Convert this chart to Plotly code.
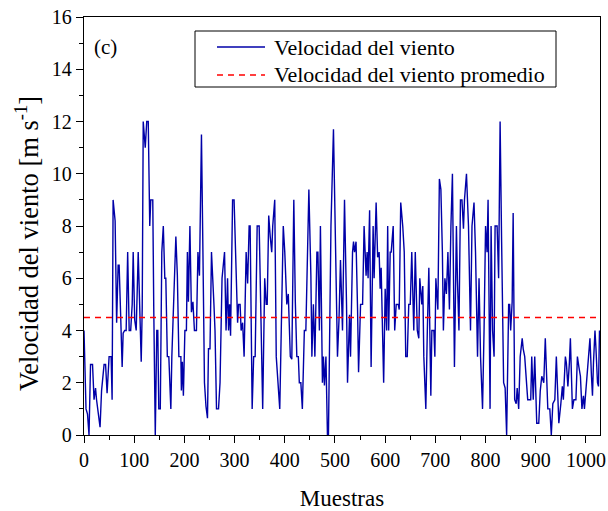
import plotly.graph_objects as go

# Sample index and wind speed (m/s)
muestras = [0,4,7,10,13,17,20,23,25,29,32,35,40,43,46,50,54,56,58,62,65,68,70,73,76,78,81,84,87,90,93,96,98,101,104,108,110,114,116,118,122,125,128,
            131,133,137,139,142,145,147,149,152,155,158,161,163,166,169,173,175,179,183,186,189,193,194,196,198,201,204,206,208,211,212,214,217,220,224,227,230,234,237,240,243,246,248,251,254,256,259,261,264,
            268,271,275,280,283,286,288,290,292,296,299,303,306,308,311,313,316,319,323,326,329,331,335,338,341,345,349,353,356,360,363,365,368,371,374,376,380,383,386,390,393,397,400,
            402,404,407,409,411,414,418,421,424,427,429,432,435,439,442,448,452,454,457,460,464,466,469,471,475,477,479,482,485,487,492,497,501,505,508,511,515,519,523,525,529,531,535,
            537,539,542,545,547,551,555,558,562,564,566,569,572,576,578,582,585,588,590,592,597,600,603,605,607,610,612,616,619,622,626,628,631,635,638,641,644,647,650,653,657,660,664,667,669,
            673,675,677,681,684,687,691,693,697,699,701,705,708,711,714,716,719,722,725,728,731,734,738,742,744,747,750,753,756,758,762,766,770,773,777,780,784,787,790,794,797,800,803,805,
            809,811,814,817,819,823,826,829,832,836,839,842,846,848,850,853,855,858,861,863,866,869,873,875,878,881,884,890,892,895,898,900,902,906,909,912,916,919,922,924,928,931,934,938,941,
            944,946,950,953,955,959,961,964,967,969,973,976,980,983,986,989,992,995,997,1001,1005,1008,1011,1013,1015,1018,1020,1023,1025,1027]
velocidad = [4.0,1.0,0.8,0.0,2.7,2.7,1.35,1.8,1.35,0.7,0.3,1.7,2.7,2.7,1.6,3.0,3.0,1.35,9.0,8.2,4.3,6.5,6.5,4.6,2.6,3.9,4.0,4.0,7.0,4.0,4.0,5.0,7.0,4.4,4.0,7.0,5.3,2.8,4.9,12.0,11.0,12.0,12.0,
             8.0,9.0,9.0,4.8,0.0,4.0,4.0,1.0,1.0,7.0,8.0,6.0,6.0,3.0,3.0,1.0,3.0,5.3,7.6,6.1,3.0,3.0,1.7,2.8,1.5,4.0,4.0,7.0,5.1,8.0,6.0,4.7,5.1,4.0,4.0,7.0,6.1,11.5,6.9,2.0,1.1,0.64,3.3,3.3,7.0,5.85,4.95,4.0,1.0,
             1.0,2.0,6.0,7.0,4.0,6.0,4.0,5.0,3.8,9.0,9.0,6.0,4.3,5.0,5.0,4.0,4.3,3.0,7.0,5.8,8.0,8.0,1.0,3.0,3.0,8.0,8.0,4.0,1.0,6.0,5.0,5.0,8.4,7.6,7.0,8.0,9.0,3.0,2.0,1.0,4.0,8.0,7.0,
             6.0,5.0,5.4,4.2,3.0,2.9,9.0,5.1,3.0,3.0,2.0,2.0,1.0,4.0,4.0,9.4,6.1,3.0,5.0,3.0,7.0,7.0,4.0,8.0,2.0,3.0,1.9,3.0,0.0,0.0,8.0,11.7,7.0,3.0,4.4,6.7,4.0,9.0,5.0,2.0,4.6,3.0,7.0,
             7.4,7.0,7.4,4.8,2.4,5.0,5.0,8.0,6.1,7.0,6.0,8.6,2.6,8.0,6.0,8.9,6.8,7.0,5.6,6.4,2.0,5.6,4.0,8.0,4.0,7.0,7.0,8.0,4.0,5.0,5.0,4.8,8.9,8.0,7.0,3.0,3.0,5.0,5.0,7.0,4.0,7.0,4.0,3.7,6.0,
             5.0,5.7,3.0,1.0,4.0,6.4,1.5,4.0,4.0,3.0,6.0,4.8,9.8,9.4,7.0,4.0,6.0,5.4,7.0,4.8,8.0,10.0,2.6,8.0,5.9,4.0,9.0,9.0,7.9,9.0,10.0,8.0,4.0,8.0,8.9,7.0,3.0,6.0,3.0,1.0,4.0,8.0,7.0,9.0,
             1.0,8.0,4.0,3.0,8.0,8.0,6.0,12.0,7.4,2.0,1.8,0.0,5.0,5.0,4.0,5.1,8.5,1.35,1.2,1.8,1.0,3.0,3.7,3.3,3.0,2.0,1.35,1.35,3.0,1.35,3.0,1.7,0.45,0.45,1.7,2.25,2.0,3.7,2.0,1.0,1.0,0.0,1.2,1.35,3.0,
             1.0,0.45,1.2,1.86,1.35,3.0,2.76,1.86,2.76,3.7,1.0,1.35,1.35,3.0,2.6,2.25,1.0,1.5,1.0,2.0,3.0,3.7,2.25,1.5,2.76,4.0,3.3,2.0,1.86,4.0]
promedio = 4.5
x_rango = [0, 1028]
y_rango = [0, 16]
serie_nombres = ["Velocidad del viento", "Velocidad del viento promedio"]

FONT = "Liberation Serif"
AZUL = "#0000A8"
ROJO = "#FF0000"
DASH = "6px,5px"

# plot-area geometry (pixels) used to place the overlay legend
L, R, T, B = 84, 8, 17, 76
W, H = 608 - L - R, 511 - T - B
def px(p):
    return (p - L) / W
def py(p):
    return (511 - B - p) / H

fig = go.Figure()
fig.add_trace(go.Scatter(x=muestras, y=velocidad, mode="lines",
                         line=dict(color=AZUL, width=1.4),
                         name=serie_nombres[0], showlegend=False))
fig.add_trace(go.Scatter(x=x_rango, y=[promedio, promedio], mode="lines",
                         line=dict(color=ROJO, width=1.4, dash=DASH),
                         name=serie_nombres[1], showlegend=False))

axis_common = dict(showline=True, linecolor="black", linewidth=1.4, mirror=True,
                   ticks="outside", tickcolor="black", tickwidth=1.4, ticklen=7,
                   showgrid=False, zeroline=False,
                   tickfont=dict(family=FONT, size=20, color="black"))

fig.update_xaxes(range=x_rango, dtick=100, tick0=0,
                 minor=dict(dtick=50, ticks="outside", ticklen=4, tickcolor="black", tickwidth=1.4),
                 title=dict(text="Muestras", font=dict(family=FONT, size=23, color="black"), standoff=20),
                 **axis_common)
fig.update_yaxes(range=y_rango, dtick=2, tick0=0,
                 minor=dict(dtick=1, ticks="outside", ticklen=4, tickcolor="black", tickwidth=1.4),
                 **axis_common)

# y-axis title
fig.add_annotation(text="Velocidad del viento [m s<sup>-1</sup>]", xref="paper", yref="paper",
                   x=px(27), y=py(244), xanchor="center", yanchor="middle", textangle=-90,
                   showarrow=False, font=dict(family=FONT, size=26.5, color="black"))

# panel label
fig.add_annotation(text="(c)", xref="paper", yref="paper", x=px(92), y=py(47),
                   xanchor="left", yanchor="middle", showarrow=False,
                   font=dict(family=FONT, size=21, color="black"))

# legend box
fig.add_shape(type="rect", xref="paper", yref="paper",
              x0=px(195), x1=px(556), y0=py(87), y1=py(31),
              line=dict(color="black", width=1), fillcolor="white", layer="above")
fig.add_shape(type="line", xref="paper", yref="paper",
              x0=px(217), x1=px(265), y0=py(47), y1=py(47),
              line=dict(color=AZUL, width=1.3), layer="above")
fig.add_shape(type="line", xref="paper", yref="paper",
              x0=px(217), x1=px(265), y0=py(75), y1=py(75),
              line=dict(color=ROJO, width=1.4, dash=DASH), layer="above")
for nombre, yy in zip(serie_nombres, [47, 75]):
    fig.add_annotation(text=nombre, xref="paper", yref="paper", x=px(272), y=py(yy),
                       xanchor="left", yanchor="middle", showarrow=False,
                       font=dict(family=FONT, size=22, color="black"))

fig.update_layout(
    width=608, height=511,
    margin=dict(l=L, r=R, t=T, b=B, autoexpand=False),
    paper_bgcolor="white", plot_bgcolor="white",
    showlegend=False,
)

fig.write_html("out.html", config={"displayModeBar": False},
               post_script="document.body.style.margin='0px';")
